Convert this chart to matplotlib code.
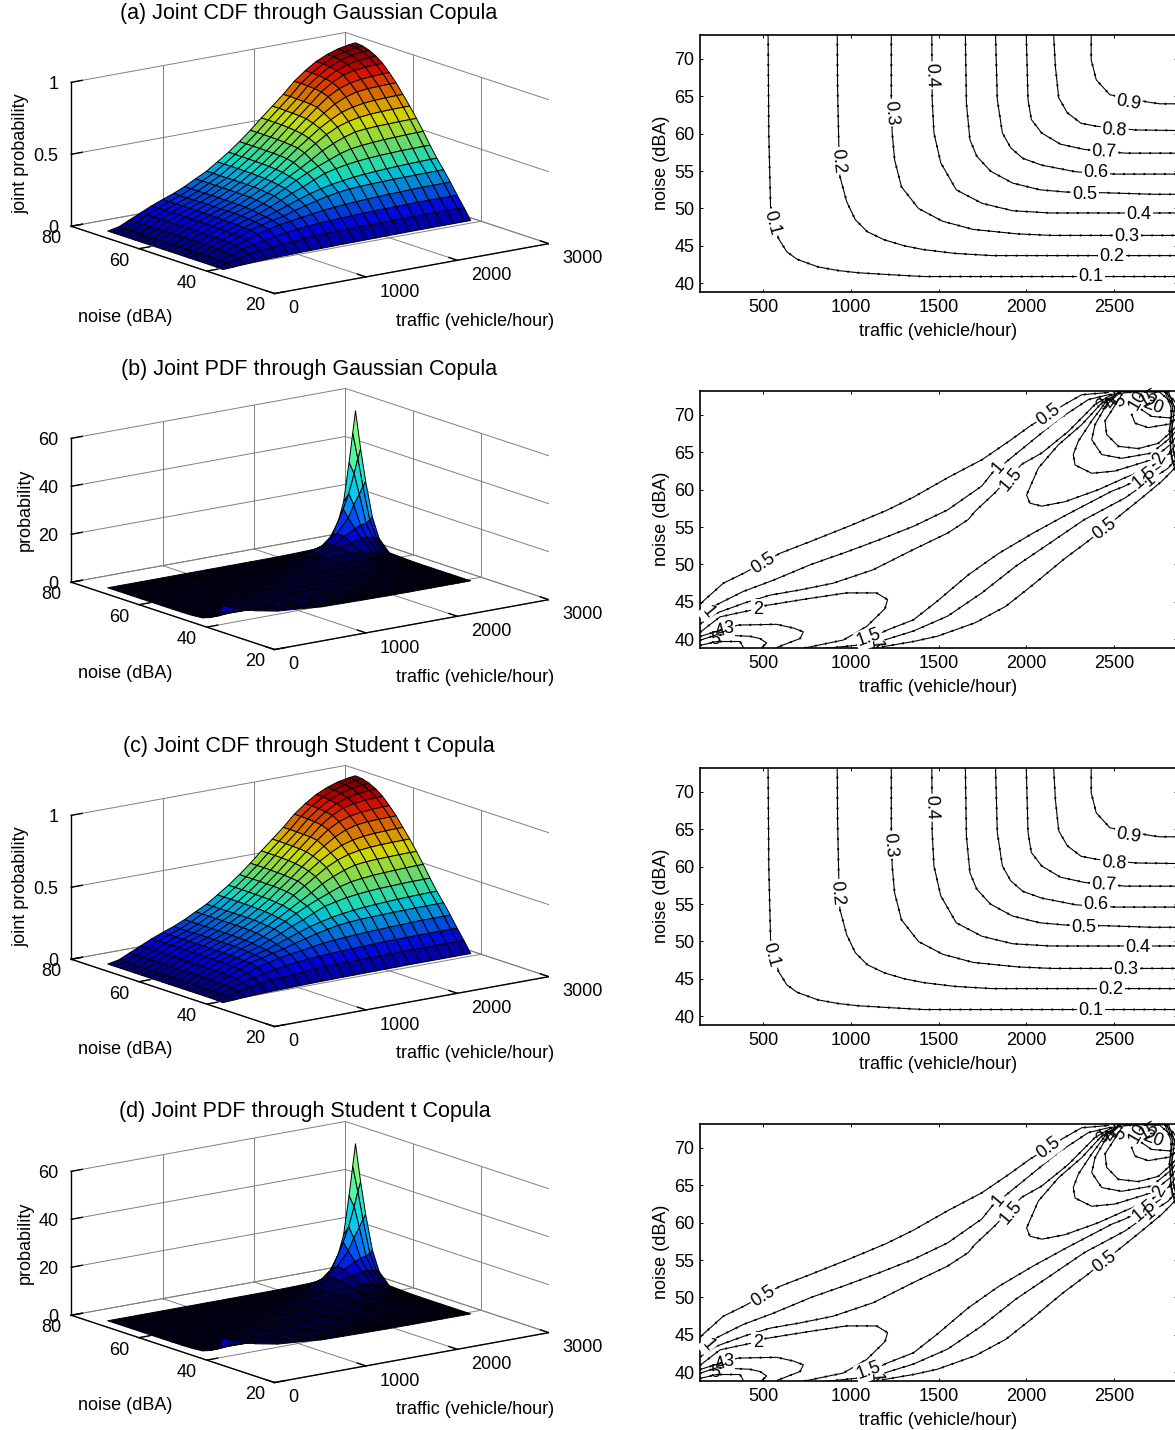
import numpy as np
import matplotlib
matplotlib.use("Agg")
import matplotlib.pyplot as plt
from matplotlib.colors import LinearSegmentedColormap, ListedColormap

plt.rcParams["font.family"] = ["Liberation Sans", "DejaVu Sans"]
plt.rcParams["font.size"] = 13

W, H = 1175, 1430

cdf_x = [140, 260, 380, 500, 620, 740, 860, 980, 1100, 1220, 1340, 1460, 1580, 1700, 1820, 1940, 2060, 2180, 2300, 2420, 2540, 2660, 2780, 2850]
cdf_y = [39, 41, 43, 45, 47, 49, 51, 53, 55, 57, 59, 61, 63, 65, 67, 69, 71, 73]
cdf_z = [
    [.002, .006, .011, .015, .018, .020, .021, .023, .024, .025, .026, .027, .027, .028, .028, .029, .029, .030, .030, .030, .030, .030, .030, .030],
    [.004, .015, .035, .052, .064, .072, .078, .083, .090, .096, .100, .100, .101, .102, .103, .103, .104, .104, .105, .105, .105, .105, .105, .105],
    [.005, .018, .045, .070, .088, .103, .118, .130, .140, .148, .154, .158, .162, .165, .168, .170, .172, .173, .174, .175, .175, .175, .175, .175],
    [.005, .020, .050, .080, .105, .130, .150, .168, .180, .192, .204, .214, .222, .228, .233, .237, .240, .243, .245, .248, .250, .250, .250, .250],
    [.005, .020, .052, .085, .115, .145, .165, .185, .200, .225, .245, .265, .282, .296, .305, .310, .313, .315, .317, .318, .319, .320, .320, .320],
    [.005, .020, .053, .087, .118, .145, .173, .193, .218, .245, .272, .298, .318, .335, .348, .358, .365, .370, .375, .378, .381, .383, .385, .385],
    [.005, .020, .054, .088, .120, .150, .178, .200, .233, .265, .300, .330, .365, .397, .415, .430, .440, .447, .452, .455, .458, .459, .460, .460],
    [.005, .020, .055, .089, .122, .152, .183, .208, .240, .280, .318, .360, .397, .430, .460, .490, .510, .520, .527, .532, .535, .538, .540, .540],
    [.005, .020, .055, .090, .123, .153, .185, .213, .250, .285, .327, .372, .415, .460, .508, .545, .575, .598, .606, .610, .612, .614, .615, .615],
    [.005, .020, .055, .090, .124, .154, .185, .215, .253, .292, .335, .385, .440, .492, .543, .592, .630, .655, .670, .678, .682, .684, .685, .685],
    [.005, .020, .055, .090, .124, .154, .185, .216, .255, .295, .340, .390, .450, .510, .565, .620, .665, .703, .725, .738, .745, .748, .750, .750],
    [.005, .020, .055, .090, .125, .155, .185, .216, .256, .296, .343, .395, .455, .515, .580, .640, .695, .745, .780, .802, .810, .813, .815, .815],
    [.005, .020, .055, .090, .125, .155, .185, .217, .256, .296, .345, .397, .457, .520, .587, .655, .720, .780, .822, .847, .860, .866, .870, .870],
    [.005, .020, .055, .090, .125, .155, .185, .217, .257, .296, .346, .398, .458, .522, .592, .660, .728, .798, .850, .887, .905, .914, .918, .920],
    [.005, .020, .055, .090, .125, .155, .183, .217, .257, .296, .347, .399, .459, .524, .595, .662, .730, .805, .860, .903, .930, .945, .952, .955],
    [.005, .020, .055, .090, .125, .155, .183, .217, .257, .296, .347, .400, .460, .525, .596, .664, .732, .808, .866, .913, .945, .965, .976, .980],
    [.005, .020, .055, .090, .125, .155, .183, .217, .257, .296, .347, .400, .460, .525, .597, .665, .733, .810, .869, .918, .953, .975, .990, .995],
    [.005, .020, .055, .090, .125, .155, .183, .217, .257, .296, .347, .400, .460, .525, .597, .665, .733, .810, .870, .920, .955, .980, .995, 1.00],
]

# ---- PDF surface
pdf_x = [140, 260, 500, 740, 980, 1220, 1460, 1700, 1940, 2180, 2420, 2540, 2660, 2720, 2780, 2820, 2850]
pdf_y = [39, 40, 41, 43, 45, 48, 51, 54, 57, 60, 63, 66, 68, 70, 71.5, 73]
pdf_z = [
    [8.5, 6.5, 3.8, 2.0, 1.3, .45, .3, .15, .05, .01, 0, 0, 0, 0, 0, 0, 0],
    [5, 4.5, 3.9, 2.9, 1.95, .95, .5, .25, .08, .02, 0, 0, 0, 0, 0, 0, 0],
    [3, 3.4, 3.3, 3, 2.3, 1.45, .8, .35, .12, .03, 0, 0, 0, 0, 0, 0, 0],
    [1.6, 2.1, 2.4, 2.5, 2.4, 2, 1.3, .65, .25, .07, .01, 0, 0, 0, 0, 0, 0],
    [.55, 1.05, 1.7, 2.05, 2.15, 2, 1.6, .9, .48, .15, .03, .01, 0, 0, 0, 0, 0],
    [.15, .35, .9, 1.25, 1.55, 1.85, 1.85, 1.45, .75, .3, .08, .03, .01, 0, 0, 0, 0],
    [.03, .1, .3, .65, 1.1, 1.42, 1.7, 1.65, 1.15, .6, .2, .1, .04, .02, .01, .01, .01],
    [.01, .03, .1, .28, .6, .95, 1.3, 1.65, 1.65, 1.05, .45, .27, .15, .1, .05, .03, .02],
    [0, .01, .03, .1, .2, .5, .85, 1.48, 1.8, 1.75, .98, .55, .35, .25, .18, .13, .1],
    [0, 0, .01, .03, .1, .2, .55, .9, 1.75, 2.3, 2.05, 1.6, .9, .6, .4, .33, .3],
    [0, 0, 0, .01, .03, .06, .15, .45, 1.35, 2.5, 3.2, 3.1, 2.4, 1.9, 1.1, .9, .5],
    [0, 0, 0, 0, .01, .02, .05, .12, .65, 1.95, 4.2, 5.4, 6.3, 6.3, 6, 5.5, 5],
    [0, 0, 0, 0, 0, .01, .02, .03, .2, 1.2, 4.5, 7, 9.5, 10.5, 11, 12, 13],
    [0, 0, 0, 0, 0, 0, .01, .01, .06, .7, 4, 7.5, 13, 18, 22, 25, 27],
    [0, 0, 0, 0, 0, 0, 0, .01, .02, .3, 2, 6, 16, 22, 30, 36, 40],
    [0, 0, 0, 0, 0, 0, 0, .01, .01, .15, .4, 2, 10, 18, 34, 46, 55],
]

# ---- CDF contour lines (traffic, noise)
c01 = ([529, 533, 543, 588, 636, 695, 812, 929, 1045, 1260, 1416, 2253, 2950], [73.3, 60, 50.3, 46, 44.2, 43.2, 42.2, 41.7, 41.4, 41.1, 40.9, 40.9, 40.9])
c02 = ([923, 925, 932, 938, 977, 1026, 1094, 1192, 1308, 1416, 1591, 1805, 2950], [73.3, 66, 58.3, 54.3, 50.9, 48.5, 46.9, 45.8, 45, 44.5, 44, 43.7, 43.7])
c03 = ([1231, 1231, 1236, 1250, 1289, 1386, 1523, 1698, 1951, 2146, 2950], [73.3, 64.8, 60.1, 56.5, 52.9, 50, 48.3, 47.2, 46.6, 46.4, 46.4])
c04 = ([1462, 1464, 1474, 1513, 1601, 1747, 1922, 2136, 2950], [73.3, 64.6, 60.1, 56.1, 52.5, 50.7, 49.7, 49.4, 49.4])
c05 = ([1653, 1659, 1679, 1718, 1796, 1922, 2078, 2224, 2458, 2721, 2950], [73.3, 64.1, 59.2, 57, 55, 53.4, 52.5, 52.2, 52.1, 51.9, 51.9])
c06 = ([1825, 1835, 1864, 1912, 1981, 2088, 2283, 2507, 2950], [73.3, 64.6, 60.1, 58.1, 56.7, 55.8, 54.9, 54.6, 54.6])
c07 = ([2000, 2010, 2029, 2088, 2195, 2331, 2565, 2950], [73.3, 64.6, 61.9, 60.1, 58.6, 57.9, 57.4, 57.4])
c08 = ([2156, 2166, 2185, 2234, 2312, 2399, 2624, 2950], [73.3, 69, 64.8, 62.8, 61.4, 61, 60.5, 60.4])
c09 = ([2370, 2370, 2399, 2477, 2701, 2760, 2950], [73.3, 69.9, 67.2, 65.2, 64.2, 64, 64])
cdf_lines = [c01, c02, c03, c04, c05, c06, c07, c08, c09]

cdf_lab = ["0.1", "0.2", "0.3", "0.4", "0.1", "0.2", "0.3", "0.4", "0.5", "0.6", "0.7", "0.8", "0.9"]
cdf_lab_rot = [-75, -85, -85, -88, 0, 0, 0, 0, 0, 0, -2, -4, -10]
cdfa_lab_x = [549, 925, 1227, 1459, 2370, 2487, 2575, 2643, 2335, 2396, 2444, 2503, 2581]
cdfa_lab_y = [48.1, 56.4, 62.8, 67.8, 40.85, 43.6, 46.3, 49.2, 51.9, 54.8, 57.5, 60.4, 64.2]
cdfc_lab_x = [546, 922, 1224, 1457, 2369, 2483, 2568, 2637, 2329, 2397, 2443, 2500, 2580]
cdfc_lab_y = [48.2, 56.5, 62.9, 67.9, 40.8, 43.6, 46.3, 49.2, 51.9, 54.9, 57.5, 60.5, 64.2]

# ---- PDF contour lines
p05a = ([145, 274, 388, 597, 773, 987, 1201, 1357, 1552, 1747, 1903, 2021, 2211, 2316, 2468], [44.8, 47.5, 48.8, 51.5, 53.1, 55.1, 57.2, 59, 61.6, 64, 66.5, 68.5, 71.3, 72.7, 73])
p10a = ([145, 217, 388, 559, 773, 967, 1162, 1357, 1552, 1747, 1822, 1869, 2031, 2183, 2354, 2468, 2620], [43.3, 44.4, 46.4, 47.9, 50, 51.6, 53.3, 55.1, 57.3, 60.5, 62.7, 63.4, 66.5, 69.4, 72.05, 72.7, 73.1])
p15a = ([145, 236, 388, 540, 711, 900, 1128, 1357, 1552, 1669, 1708, 1822, 1974, 2088, 2240, 2392, 2487], [42.1, 43.5, 44.8, 45.9, 46.6, 47.5, 49.3, 52, 54.2, 56, 57.1, 59.6, 63.4, 64.9, 67.8, 71.4, 72.7])
p20a = ([145, 255, 435, 511, 749, 976, 1147, 1210, 1195, 1090, 958, 730], [41, 43, 43.9, 44.5, 45.4, 46.2, 46.2, 45.3, 44.1, 41.7, 39.9, 38.8])
p30a = ([145, 255, 359, 578, 673, 730, 711, 578], [40.4, 41.2, 41.9, 42, 41.5, 41, 40.1, 38.9])
p40a = ([145, 236, 426, 483, 521, 492], [39.9, 40.6, 40.4, 40.1, 39.5, 38.9])
p50a = ([145, 236, 369, 388], [39.2, 39.7, 39.7, 38.9])
p15b = ([863, 1033, 1204, 1357, 1493, 1669, 1844, 2039, 2234, 2487, 2553, 2695, 2809, 2850], [38.8, 39.2, 41.2, 42.6, 45.1, 48.6, 51.5, 54.2, 56.7, 59.8, 60.4, 62, 63.8, 65])
p10b = ([1150, 1192, 1357, 1552, 1747, 1942, 2137, 2331, 2563, 2695, 2809, 2850], [38.9, 39.9, 41.1, 43.1, 46.2, 49.8, 52.9, 56, 58.9, 61.1, 62.9, 64])
p05b = ([1182, 1357, 1493, 1708, 1883, 2039, 2214, 2351, 2526, 2658, 2771, 2847], [39, 39.7, 40.4, 42.2, 44.4, 47.3, 50.7, 53.1, 56.4, 58.9, 61.1, 62.9])
p20b = ([2506, 2430, 2316, 2183, 2069, 2002, 2021, 2088, 2221, 2411, 2563, 2714, 2819, 2850], [72.7, 71.6, 68.7, 66, 62.9, 59.3, 58.2, 57.8, 58.4, 60, 61.6, 63.1, 64.9, 66])
p30b = ([2525, 2449, 2373, 2297, 2268, 2278, 2373, 2506, 2714, 2819, 2850], [73, 71.6, 69.2, 66.5, 64.7, 63.3, 62.2, 62.5, 64, 66, 67])
p40b = ([2535, 2458, 2392, 2373, 2430, 2544, 2714, 2819, 2850], [73, 71.4, 68.7, 66.7, 64.7, 64.2, 64.9, 66.9, 67.8])
p50b = ([2544, 2449, 2458, 2525, 2639, 2752, 2819, 2850], [72.7, 69.2, 67.4, 65.8, 65.5, 66.2, 67.6, 68.4])
p100 = ([2601, 2620, 2695, 2819, 2850], [70.04, 68.9, 68.3, 68.8, 69.4])
p200 = ([2658, 2714, 2819, 2850], [70.7, 69.8, 69.6, 70])
p300 = ([2560, 2640, 2760, 2835, 2850], [73.15, 73.1, 73.05, 71.5, 70.8])
p400 = ([2500, 2620, 2790, 2840, 2850], [73.1, 73.15, 73.1, 72, 71.6])
# the bundle of steep lines running down the right edge
p500 = ([2800, 2835, 2815, 2830, 2850], [73.1, 71, 68, 64, 62.5])
p600 = ([2790, 2825, 2825, 2820, 2850], [73.1, 71, 67.5, 65, 63])
p700 = ([2810, 2845, 2830, 2840, 2850], [73.1, 71, 68, 65, 64])
pdf_lines = [p05a, p10a, p15a, p20a, p30a, p40a, p50a, p15b, p10b, p05b, p20b, p30b, p40b, p50b, p100, p200, p300, p400, p500, p600, p700]

pdf_lab = ["0.5", "0.5", "1", "1.5", "1.5", "0.5", "1.5", "2", "3", "1", "2"]
pdf_lab_x = [500, 2127, 1844, 1912, 2672, 2448, 1104, 471, 305, 188, 2760]
pdf_lab_y = [50.2, 70, 63, 61.4, 61.6, 54.7, 40.2, 44, 41.5, 43.7, 64.2]
pdf_lab_rot = [33, 37, 50, 50, 40, 37, 20, 0, 0, -50, 60]

# these sit in the crowded corners, no white box behind them
pdf_small_lab = ["5", "4", "1", "3", "4", "5", "10", "15", "20", "1"]
pdf_small_x = [227, 257, 1143, 2438, 2487, 2536, 2633, 2700, 2721, 2700]
pdf_small_y = [40, 41, 39.3, 71.4, 71.6, 71.8, 72, 72.3, 71.2, 61.3]
pdf_small_rot = [0, 15, -85, 55, 55, 50, 60, 30, -20, 40]

x_ticks3d = [0, 1000, 2000, 3000]
y_ticks3d = [20, 40, 60, 80]
cdf_zticks = [0, 0.5, 1]
pdf_zticks = [0, 20, 40, 60]
x_ticks2d = [500, 1000, 1500, 2000, 2500]
y_ticks2d = [40, 45, 50, 55, 60, 65, 70]

# black mesh lines are much denser in the original, so the colours read darker
jet_rgba = plt.get_cmap("jet")(np.linspace(0, 1, 256))
jet_rgba[:, :3] *= 0.85
cdf_cmap = ListedColormap(jet_rgba)
pdf_cmap = LinearSegmentedColormap.from_list("pdf", [(0, "#00001a"), (0.04, "#000040"), (0.12, "#0000d0"),
                                                     (0.25, "#0060ff"), (0.4, "#00c8f0"), (0.55, "#20e0d0"),
                                                     (0.7, "#60ff90"), (1, "#a0ff50")])

fig = plt.figure(figsize=(W / 100, H / 100), dpi=100)


def px_text(x, y, s, **kw):
    fig.text(x / W, 1 - y / H, s, ha="center", va="center", **kw)


def surface_panel(dy, xs, ys, zs, zticks, zlabel, cmap, vmax, lw):
    # 3D box sits by pixel position, view taken from the picture's corners
    size = 490.4
    left = 310 - 0.5135 * size
    bottom = H - (163 + dy + 0.5135 * size)
    ax = fig.add_axes([left / W, bottom / H, size / W, size / H], projection="3d")
    ax.set_proj_type("ortho")
    ax.set_box_aspect((2.3, 2.3, 1))
    ax.view_init(elev=14.2, azim=-126.55)
    ax.set_axis_off()
    ax.patch.set_visible(False)
    ax.computed_zorder = False
    ax.set_xlim(0, 3000)
    ax.set_ylim(20, 80)
    ztop = zticks[-1]
    ax.set_zlim(0, ztop)

    grid = dict(color="#808080", lw=0.7, zorder=1)
    for t in x_ticks3d:
        ax.plot([t, t], [20, 80], [0, 0], **grid)
        ax.plot([t, t], [80, 80], [0, ztop], **grid)
    for t in y_ticks3d:
        ax.plot([0, 3000], [t, t], [0, 0], **grid)
        ax.plot([3000, 3000], [t, t], [0, ztop], **grid)
    for t in zticks:
        ax.plot([0, 3000], [80, 80], [t, t], **grid)
        ax.plot([3000, 3000], [20, 80], [t, t], **grid)

    X, Y = np.meshgrid(xs, ys)
    ax.plot_surface(X, Y, np.array(zs), rstride=1, cstride=1, cmap=cmap, vmin=0, vmax=vmax,
                    edgecolor="k", linewidth=lw, shade=False, zorder=2)

    front = dict(color="k", lw=1.0, zorder=3)
    ax.plot([0, 3000], [20, 20], [0, 0], **front)
    ax.plot([0, 0], [20, 80], [0, 0], **front)
    ax.plot([0, 0], [80, 80], [0, ztop], **front)
    for t in x_ticks3d:
        ax.plot([t, t], [20, 22.5], [0, 0], **front)
    for t in y_ticks3d:
        ax.plot([0, 120], [t, t], [0, 0], **front)
    for t in zticks:
        ax.plot([0, 120], [80, 80], [t, t], **front)

    for t in x_ticks3d:
        ax.text(t, 16, -0.074 * ztop, str(t), ha="left", va="center")
    for t in y_ticks3d:
        ax.text(-105, t, -0.074 * ztop, str(t), ha="right", va="center")
    for t in zticks:
        ax.text(-140, 80, t, str(t), ha="right", va="center")

    px_text(125, 317 + dy, "noise (dBA)")
    px_text(475, 321 + dy, "traffic (vehicle/hour)")
    px_text(21 if zlabel == "joint probability" else 25, 154 + dy, zlabel, rotation=90)


def contour_panel(dy, lines, labs, lab_x, lab_y, lab_rot):
    top = 35 + dy
    ax = fig.add_axes([700 / W, 1 - (top + 256.5) / H, 477 / W, 256.5 / H])
    for xs, ys in lines:
        ax.plot(xs, ys, color="k", lw=0.8)
        # the small marks along MATLAB's contour lines
        ax.plot(xs, ys, color="k", lw=1.6, linestyle=(0, (0.1, 4.5)), dash_capstyle="round")
    for s, x, y, r in zip(labs, lab_x, lab_y, lab_rot):
        ax.text(x, y, s, rotation=r, ha="center", va="center", rotation_mode="anchor",
                bbox=dict(fc="w", ec="none", pad=1.0))
    ax.set_xticks(x_ticks2d)
    ax.set_yticks(y_ticks2d)
    ax.set_xlim(141, 2859)
    ax.set_ylim(38.9, 73.2)
    ax.tick_params(direction="in", top=True, right=True, length=2.5, width=0.7, pad=4)
    ax.tick_params(axis="x", pad=5.5)
    for sp in ax.spines.values():
        sp.set_linewidth(1.2)
    ax.set_xlabel("traffic (vehicle/hour)", labelpad=5)
    ax.set_ylabel("noise (dBA)", labelpad=3)
    return ax


surface_panel(0, cdf_x, cdf_y, cdf_z, cdf_zticks, "joint probability", cdf_cmap, 1, 0.7)
surface_panel(356, pdf_x, pdf_y, pdf_z, pdf_zticks, "probability", pdf_cmap, 55, 0.7)
surface_panel(733, cdf_x, cdf_y, cdf_z, cdf_zticks, "joint probability", cdf_cmap, 1, 0.7)
surface_panel(1089, pdf_x, pdf_y, pdf_z, pdf_zticks, "probability", pdf_cmap, 55, 0.7)

px_text(309, 13, "(a) Joint CDF through Gaussian Copula", fontsize=15.5)
px_text(309, 369, "(b) Joint PDF through Gaussian Copula", fontsize=15.5)
px_text(309, 746, "(c) Joint CDF through Student t Copula", fontsize=15.5)
px_text(305, 1112, "(d) Joint PDF through Student t Copula", fontsize=15.5)

contour_panel(0, cdf_lines, cdf_lab, cdfa_lab_x, cdfa_lab_y, cdf_lab_rot)
contour_panel(733, cdf_lines, cdf_lab, cdfc_lab_x, cdfc_lab_y, cdf_lab_rot)
for dy in [356, 1089]:
    ax = contour_panel(dy, pdf_lines, pdf_lab, pdf_lab_x, pdf_lab_y, pdf_lab_rot)
    for s, x, y, r in zip(pdf_small_lab, pdf_small_x, pdf_small_y, pdf_small_rot):
        ax.text(x, y, s, rotation=r, ha="center", va="center", rotation_mode="anchor")

fig.savefig("out.png", dpi=100)
